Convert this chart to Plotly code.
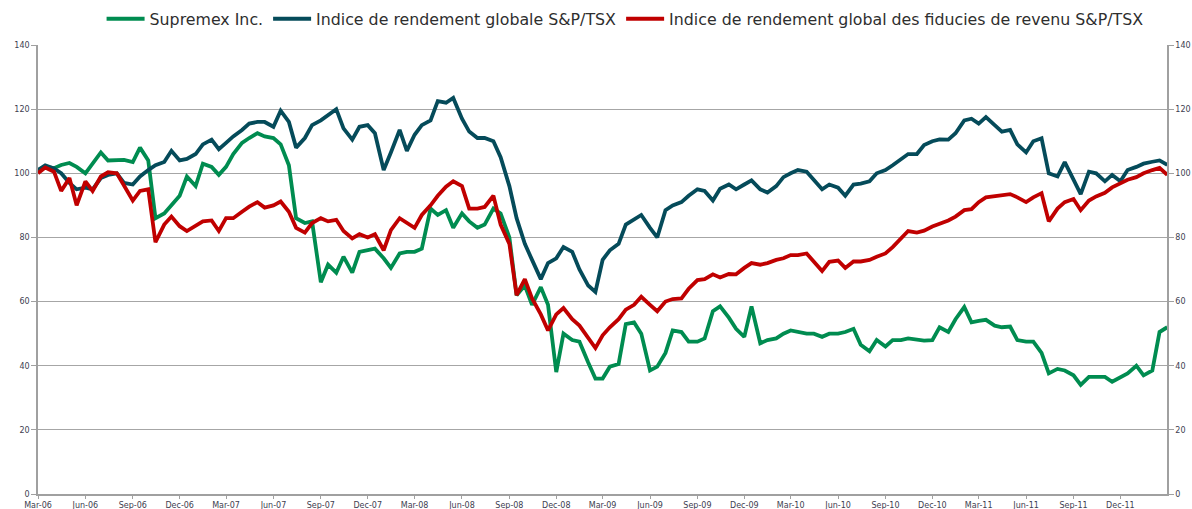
import pandas as pd
import plotly.graph_objects as go

# Semi-monthly observation dates (1st and 15th), Mar 2006 - Mar 2012
dates = pd.date_range("2006-03-01", periods=145, freq="SMS")

supremex = [
    101, 102, 101.6, 102.6, 103.2, 102, 100, 103, 106.5, 104,
    104, 104.2, 103.5, 108, 104, 86, 87.5, 90, 93, 99,
    96, 103, 102, 99.5, 102, 106, 109.5, 111, 112.5, 111.5,
    111, 109, 102.5, 86, 84.5, 85, 66, 71.5, 69, 74,
    69, 75.5, 76, 76.5, 73.5, 70.5, 75, 75.5, 75.5, 76.5,
    89, 87, 88.5, 83, 87.5, 85, 83, 84, 89, 87.5,
    80, 62, 65, 59, 64.5, 59, 38, 50, 48, 47.5,
    41, 36, 36, 39.7, 40.5, 53, 53.5, 50, 38.5, 39.7,
    44, 51, 50.5, 47.5, 47.5, 48.5, 57, 58.5, 55, 51.5,
    49, 58.5, 47, 48, 48.5, 50, 51, 50.5, 50, 50,
    49, 50, 50, 50.5, 51.5, 46.5, 44.5, 48, 46, 48,
    48, 48.5, 48, 47.8, 48, 52, 50.5, 54.5, 58.3, 53.5,
    54, 54.3, 52.5, 52, 52.2, 48, 47.5, 47.5, 44, 37.6,
    39, 38.5, 37, 34, 36.5, 36.5, 36.5, 35, 36.5, 37.6,
    40, 37, 38.5, 50.5, 52,
]

tsx = [
    101, 102.5, 101.5, 100, 97, 95, 95.5, 95, 98.5, 99.5,
    100, 97, 96.5, 99, 101, 102.5, 103.5, 107, 104, 104.5,
    106, 109, 110.5, 107.5, 109.5, 111.5, 113.5, 115.5, 116, 116,
    114.5, 119.5, 116, 108, 111, 115, 116.5, 118, 120, 114,
    110.5, 114.5, 115, 112.5, 101, 106.5, 113.5, 107, 112, 115,
    116.5, 122.5, 122, 123.5, 117, 113, 111, 111, 110, 105,
    96, 86, 78, 73, 67, 72, 73.5, 77, 75.5, 70,
    65, 63, 73, 76, 78, 84, 85.5, 87, 83, 80,
    88.5, 90, 91, 93, 95, 94.5, 91.5, 95.2, 96.5, 95,
    96.5, 97.8, 95, 94, 96, 98.8, 100, 101, 100.5, 98,
    95, 96.5, 95.5, 93, 96.5, 96.8, 97.5, 100, 101, 102.5,
    104.2, 106, 106, 108.8, 110, 110.6, 110.5, 112.5, 116.5, 117,
    115.5, 117.5, 115, 113, 113.5, 109, 106.5, 110, 110.9, 100,
    99, 103.5, 98, 93.5, 100.5, 100, 97.5, 99.5, 97.5, 101,
    102, 103, 103.6, 104, 102.6,
]

trusts = [
    100, 101.8, 100.5, 94.5, 98.5, 90, 97.5, 94.5, 99, 100.3,
    100, 96, 91.5, 94.5, 95, 78.5, 84, 86.5, 83.5, 82,
    83.5, 85, 85.3, 82, 86, 86, 88, 89.6, 91, 89.3,
    90, 91.2, 88, 83, 81.5, 84.5, 86, 85, 85.5, 82,
    79.7, 81, 80, 81, 76, 82.3, 86, 84.5, 83, 87,
    90, 93, 95.8, 97.5, 96, 89, 89, 89.5, 93, 84,
    78, 62, 67, 61, 56, 51, 56, 58, 54.5, 52.5,
    48.5, 45.5, 49.5, 52, 54.5, 57.5, 59, 61.5, 59, 57,
    60, 60.8, 61, 64, 66.7, 67, 68.5, 67.5, 68.6, 68.5,
    70.5, 72, 71.5, 72, 73, 73.5, 74.5, 74.5, 75, 72.5,
    69.5, 72.4, 72.8, 70.5, 72.5, 72.5, 73, 74, 75, 77,
    79.8, 82, 81.5, 82.1, 83.4, 84.2, 85.3, 86.5, 88.5, 88.8,
    91, 92.5, 92.8, 93.2, 93.5, 92.5, 91, 92.5, 93.8, 85,
    89, 91, 92, 88.5, 91.5, 92.8, 93.9, 95.6, 96.8, 98,
    98.8, 100, 101, 101.7, 99.5,
]

series_names = [
    "Supremex Inc.",
    "Indice de rendement globale S&P/TSX",
    "Indice de rendement global des fiducies de revenu S&P/TSX",
]
series_colors = ["#008C50", "#054B5A", "#C00000"]

tick_dates = [
    "2006-03-01", "2006-06-01", "2006-09-01", "2006-12-01",
    "2007-03-01", "2007-06-01", "2007-09-01", "2007-12-01",
    "2008-03-01", "2008-06-01", "2008-09-01", "2008-12-01",
    "2009-03-01", "2009-06-01", "2009-09-01", "2009-12-01",
    "2010-03-01", "2010-06-01", "2010-09-01", "2010-12-01",
    "2011-03-01", "2011-06-01", "2011-09-01", "2011-12-01",
]
tick_labels = [
    "Mar-06", "Jun-06", "Sep-06", "Dec-06",
    "Mar-07", "Jun-07", "Sep-07", "Dec-07",
    "Mar-08", "Jun-08", "Sep-08", "Dec-08",
    "Mar-09", "Jun-09", "Sep-09", "Dec-09",
    "Mar-10", "Jun-10", "Sep-10", "Dec-10",
    "Mar-11", "Jun-11", "Sep-11", "Dec-11",
]

fig = go.Figure()
for name, vals, col in zip(series_names, [supremex, tsx, trusts], series_colors):
    fig.add_trace(go.Scatter(
        x=dates, y=vals, name=name, mode="lines",
        line=dict(color=col, width=3.8),
    ))

# invisible copy to anchor the right-hand axis
fig.add_trace(go.Scatter(
    x=dates, y=trusts, yaxis="y2", mode="lines", showlegend=False,
    line=dict(color="rgba(0,0,0,0)", width=0), hoverinfo="skip",
))

tick_font = dict(family="DejaVu Sans, Verdana, sans-serif", size=8, color="#404050")

fig.update_layout(
    width=1192, height=509,
    margin=dict(l=38, r=25, t=45, b=15, autoexpand=False),
    paper_bgcolor="white", plot_bgcolor="white",
    showlegend=True,
    legend=dict(
        orientation="h", x=0.52, xanchor="center", y=1.058, yanchor="middle",
        font=dict(family="DejaVu Sans, Verdana, sans-serif", size=15.8, color="#2E2E2E"),
        bgcolor="rgba(0,0,0,0)",
        tracegroupgap=0, itemwidth=38,
    ),
    xaxis=dict(
        type="date",
        range=["2006-03-01", "2012-02-29 12:00"],
        tickvals=tick_dates, ticktext=tick_labels,
        tickfont=tick_font,
        showgrid=False, zeroline=False,
        showline=True, linecolor="#A0A0A0", linewidth=1.5,
        ticks="outside", ticklen=3, tickcolor="#A0A0A0",
    ),
    yaxis=dict(
        range=[0, 140], dtick=20, tick0=0,
        tickfont=tick_font,
        showgrid=True, gridcolor="#A6A6A6", gridwidth=1,
        zeroline=False,
        showline=True, linecolor="#A0A0A0", linewidth=1.5,
        ticks="outside", ticklen=5, tickcolor="#A0A0A0",
    ),
    yaxis2=dict(
        range=[0, 140], dtick=20, tick0=0,
        overlaying="y", side="right", anchor="x",
        tickfont=tick_font,
        showgrid=False, zeroline=False,
        showline=True, linecolor="#A0A0A0", linewidth=1.5,
        ticks="outside", ticklen=5, tickcolor="#A0A0A0",
    ),
)

fig.write_html(
    "out.html",
    config={"displayModeBar": False},
    post_script="document.body.style.margin='0px';document.body.style.overflow='hidden';",
)
